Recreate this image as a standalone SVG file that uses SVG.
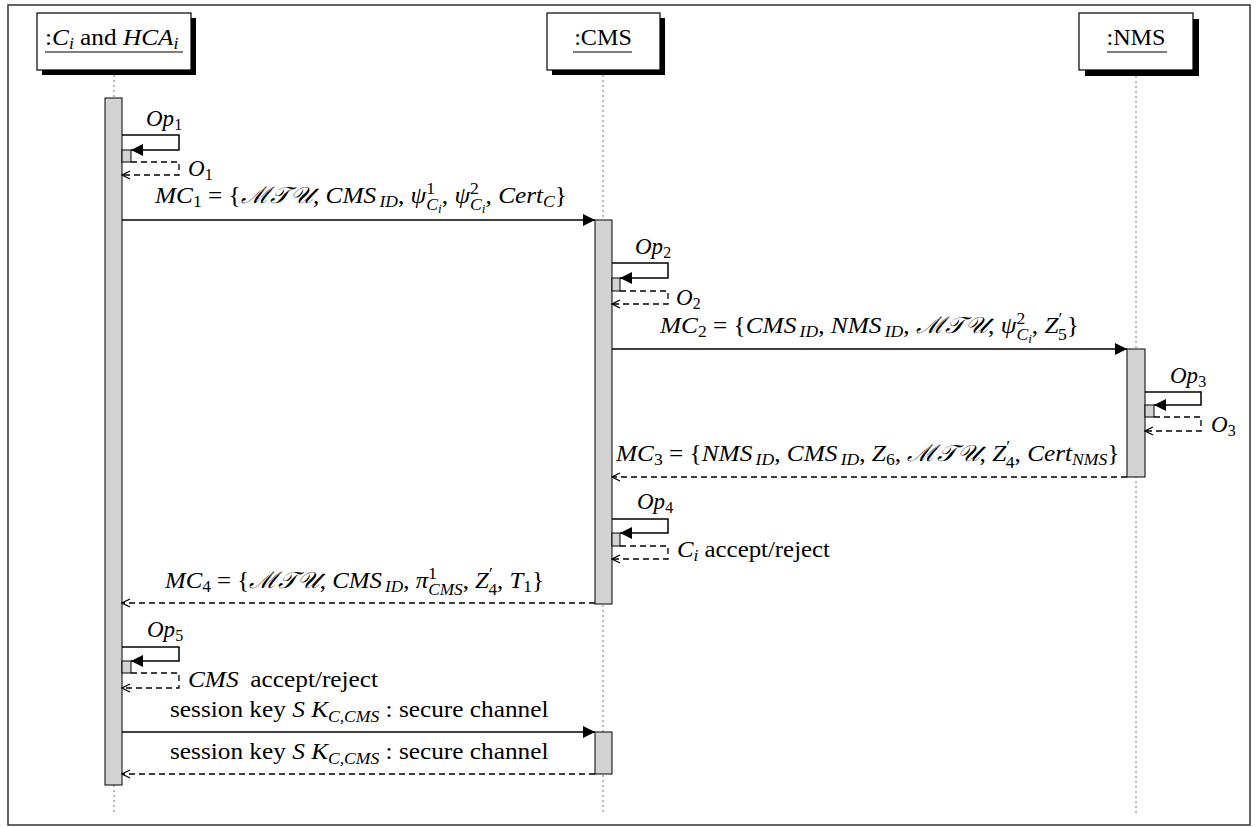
<svg xmlns="http://www.w3.org/2000/svg" width="1256" height="827" viewBox="0 0 1256 827">
<defs>
<style>
text{font-family:'Liberation Serif','DejaVu Serif','Times New Roman',serif;font-size:23px;fill:#000}
tspan.i,text.i{font-style:italic}
tspan.n{font-style:normal}
tspan.s{font-size:16px}
tspan.ss{font-size:12px}
.life{stroke:#777;stroke-width:1;stroke-dasharray:2,3;fill:none}
.act{fill:#d3d3d3;stroke:#000;stroke-width:1}
.msg{stroke:#000;stroke-width:1.5;fill:none}
.ret{stroke:#000;stroke-width:1.3;stroke-dasharray:6,4;fill:none}
.box{fill:#fff;stroke:#000;stroke-width:1.2}
.shadow{fill:#000}
</style>
<marker id="fa" viewBox="0 0 12 12" markerWidth="12" markerHeight="12" refX="12" refY="6" orient="auto" markerUnits="userSpaceOnUse"><path d="M0,0 L12,6 L0,12 z" fill="#000"/></marker>
<marker id="oa" viewBox="0 0 10 10" markerWidth="10" markerHeight="10" refX="9" refY="5" orient="auto" markerUnits="userSpaceOnUse"><path d="M1,1 L9,5 L1,9" fill="none" stroke="#000" stroke-width="1.2"/></marker>
</defs>
<rect x="8" y="5" width="1242" height="820" fill="#fff" stroke="#333" stroke-width="1.5"/>

<g id="lifelines">
<line class="life" x1="114" y1="75" x2="114" y2="815"/>
<line class="life" x1="603" y1="75" x2="603" y2="815"/>
<line class="life" x1="1136" y1="76" x2="1136" y2="815"/>
</g>

<g id="p-ci">
<rect class="shadow" x="42" y="18" width="154" height="57"/>
<rect class="box" x="37" y="13" width="154" height="57"/>
<text transform="translate(45,45) scale(1.1,1)" x="0" y="0">:<tspan class="i">C</tspan><tspan class="s i" dy="4">i</tspan><tspan dy="-4"> and </tspan><tspan class="i">HCA</tspan><tspan class="s i" dy="4">i</tspan></text>
<line x1="45" y1="52" x2="183" y2="52" stroke="#000" stroke-width="1.2"/>
</g>
<g id="p-cms">
<rect class="shadow" x="552" y="18" width="113" height="57"/>
<rect class="box" x="547" y="13" width="113" height="57"/>
<text transform="translate(603,45) scale(1.05,1)" x="0" y="0" text-anchor="middle">:CMS</text>
<line x1="573" y1="52" x2="632" y2="52" stroke="#000" stroke-width="1.2"/>
</g>
<g id="p-nms">
<rect class="shadow" x="1085" y="19" width="114" height="57"/>
<rect class="box" x="1079" y="13" width="114" height="57"/>
<text transform="translate(1136,45) scale(1.05,1)" x="0" y="0" text-anchor="middle">:NMS</text>
<line x1="1107" y1="52" x2="1167" y2="52" stroke="#000" stroke-width="1.2"/>
</g>

<g id="activations">
<rect class="act" x="105" y="98" width="17" height="687"/>
<rect class="act" x="595" y="220" width="17" height="384"/>
<rect class="act" x="1127" y="349" width="18" height="128"/>
<rect class="act" x="595" y="732" width="17" height="42"/>
<rect class="act" x="122" y="150" width="9" height="12"/>
<rect class="act" x="612" y="278" width="8" height="13"/>
<rect class="act" x="1145" y="405" width="9" height="12"/>
<rect class="act" x="612" y="533" width="8" height="13"/>
<rect class="act" x="122" y="661" width="9" height="12"/>
</g>

<g id="connectors">
<path class="msg" d="M122,135 H179 V150 H131" marker-end="url(#fa)"/>
<path class="ret" d="M131,162 H179 V175 H122" marker-end="url(#oa)"/>
<line class="msg" x1="122" y1="220" x2="595" y2="220" marker-end="url(#fa)"/>
<path class="msg" d="M612,263 H668 V278 H620" marker-end="url(#fa)"/>
<path class="ret" d="M620,291 H668 V304 H612" marker-end="url(#oa)"/>
<line class="msg" x1="612" y1="349" x2="1127" y2="349" marker-end="url(#fa)"/>
<path class="msg" d="M1145,392 H1201 V405 H1154" marker-end="url(#fa)"/>
<path class="ret" d="M1154,417 H1201 V431 H1145" marker-end="url(#oa)"/>
<line class="ret" x1="1127" y1="477" x2="612" y2="477" marker-end="url(#oa)"/>
<path class="msg" d="M612,519 H668 V533 H620" marker-end="url(#fa)"/>
<path class="ret" d="M620,546 H668 V559 H612" marker-end="url(#oa)"/>
<line class="ret" x1="595" y1="603" x2="122" y2="603" marker-end="url(#oa)"/>
<path class="msg" d="M122,647 H179 V661 H131" marker-end="url(#fa)"/>
<path class="ret" d="M131,673 H179 V688 H122" marker-end="url(#oa)"/>
<line class="msg" x1="122" y1="732" x2="595" y2="732" marker-end="url(#fa)"/>
<line class="ret" x1="595" y1="774" x2="122" y2="774" marker-end="url(#oa)"/>
</g>

<g id="labels">
<text class="i" x="146" y="126">Op<tspan class="s n" dy="4">1</tspan></text>
<text class="i" x="188" y="176">O<tspan class="s n" dy="4">1</tspan></text>
<text transform="translate(155,203) scale(1.1,1)" x="0" y="0"><tspan class="i">MC</tspan><tspan class="s" dy="4">1</tspan><tspan dy="-4"> = {</tspan><tspan class="i">ℳ𝒯𝒰</tspan>, <tspan class="i">CMS</tspan><tspan class="s i" dx="3" dy="4">ID</tspan><tspan dy="-4">, </tspan><tspan class="i">ψ</tspan><tspan class="s" dy="-9">1</tspan><tspan class="s i" dx="-8" dy="16">C</tspan><tspan class="ss i" dy="3">i</tspan><tspan dy="-10">, </tspan><tspan class="i">ψ</tspan><tspan class="s" dy="-9">2</tspan><tspan class="s i" dx="-8" dy="16">C</tspan><tspan class="ss i" dy="3">i</tspan><tspan dy="-10">, </tspan><tspan class="i">Cert</tspan><tspan class="s i" dy="4">C</tspan><tspan dy="-4">}</tspan></text>

<text class="i" x="635" y="254">Op<tspan class="s n" dy="4">2</tspan></text>
<text class="i" x="676" y="305">O<tspan class="s n" dy="4">2</tspan></text>
<text transform="translate(660,333) scale(1.1,1)" x="0" y="0"><tspan class="i">MC</tspan><tspan class="s" dy="4">2</tspan><tspan dy="-4"> = {</tspan><tspan class="i">CMS</tspan><tspan class="s i" dx="3" dy="4">ID</tspan><tspan dy="-4">, </tspan><tspan class="i">NMS</tspan><tspan class="s i" dx="3" dy="4">ID</tspan><tspan dy="-4">, </tspan><tspan class="i">ℳ𝒯𝒰</tspan>, <tspan class="i">ψ</tspan><tspan class="s" dy="-9">2</tspan><tspan class="s i" dx="-8" dy="16">C</tspan><tspan class="ss i" dy="3">i</tspan><tspan dy="-10">, </tspan><tspan class="i">Z</tspan><tspan class="s" dy="-9">′</tspan><tspan class="s" dx="-4" dy="16">5</tspan><tspan dy="-7">}</tspan></text>

<text class="i" x="1170" y="383">Op<tspan class="s n" dy="4">3</tspan></text>
<text class="i" x="1211" y="432">O<tspan class="s n" dy="4">3</tspan></text>
<text transform="translate(616,461) scale(1.1,1)" x="0" y="0"><tspan class="i">MC</tspan><tspan class="s" dy="4">3</tspan><tspan dy="-4"> = {</tspan><tspan class="i">NMS</tspan><tspan class="s i" dx="3" dy="4">ID</tspan><tspan dy="-4">, </tspan><tspan class="i">CMS</tspan><tspan class="s i" dx="3" dy="4">ID</tspan><tspan dy="-4">, </tspan><tspan class="i">Z</tspan><tspan class="s" dy="4">6</tspan><tspan dy="-4">, </tspan><tspan class="i">ℳ𝒯𝒰</tspan>, <tspan class="i">Z</tspan><tspan class="s" dy="-9">′</tspan><tspan class="s" dx="-4" dy="16">4</tspan><tspan dy="-7">, </tspan><tspan class="i">Cert</tspan><tspan class="s i" dy="4">NMS</tspan><tspan dy="-4">}</tspan></text>

<text class="i" x="637" y="509">Op<tspan class="s n" dy="4">4</tspan></text>
<text transform="translate(677,557) scale(1.08,1)" x="0" y="0"><tspan class="i">C</tspan><tspan class="s i" dy="4">i</tspan><tspan dy="-4"> accept/reject</tspan></text>
<text transform="translate(165,588) scale(1.08,1)" x="0" y="0"><tspan class="i">MC</tspan><tspan class="s" dy="4">4</tspan><tspan dy="-4"> = {</tspan><tspan class="i">ℳ𝒯𝒰</tspan>, <tspan class="i">CMS</tspan><tspan class="s i" dx="3" dy="4">ID</tspan><tspan dy="-4">, </tspan><tspan class="i">π</tspan><tspan class="s" dy="-9">1</tspan><tspan class="s i" dx="-8" dy="16">CMS</tspan><tspan dy="-7">, </tspan><tspan class="i">Z</tspan><tspan class="s" dy="-9">′</tspan><tspan class="s" dx="-4" dy="16">4</tspan><tspan dy="-7">, </tspan><tspan class="i">T</tspan><tspan class="s" dy="4">1</tspan><tspan dy="-4">}</tspan></text>

<text class="i" x="147" y="637">Op<tspan class="s n" dy="4">5</tspan></text>
<text transform="translate(188,687) scale(1.1,1)" x="0" y="0"><tspan class="i">CMS</tspan><tspan dx="5"> accept/reject</tspan></text>
<text transform="translate(170,717) scale(1.1,1)" x="0" y="0">session key <tspan class="i">S K</tspan><tspan class="s i" dy="5">C,CMS</tspan><tspan dy="-5"> : secure channel</tspan></text>
<text transform="translate(170,759) scale(1.1,1)" x="0" y="0">session key <tspan class="i">S K</tspan><tspan class="s i" dy="5">C,CMS</tspan><tspan dy="-5"> : secure channel</tspan></text>
</g>
</svg>
